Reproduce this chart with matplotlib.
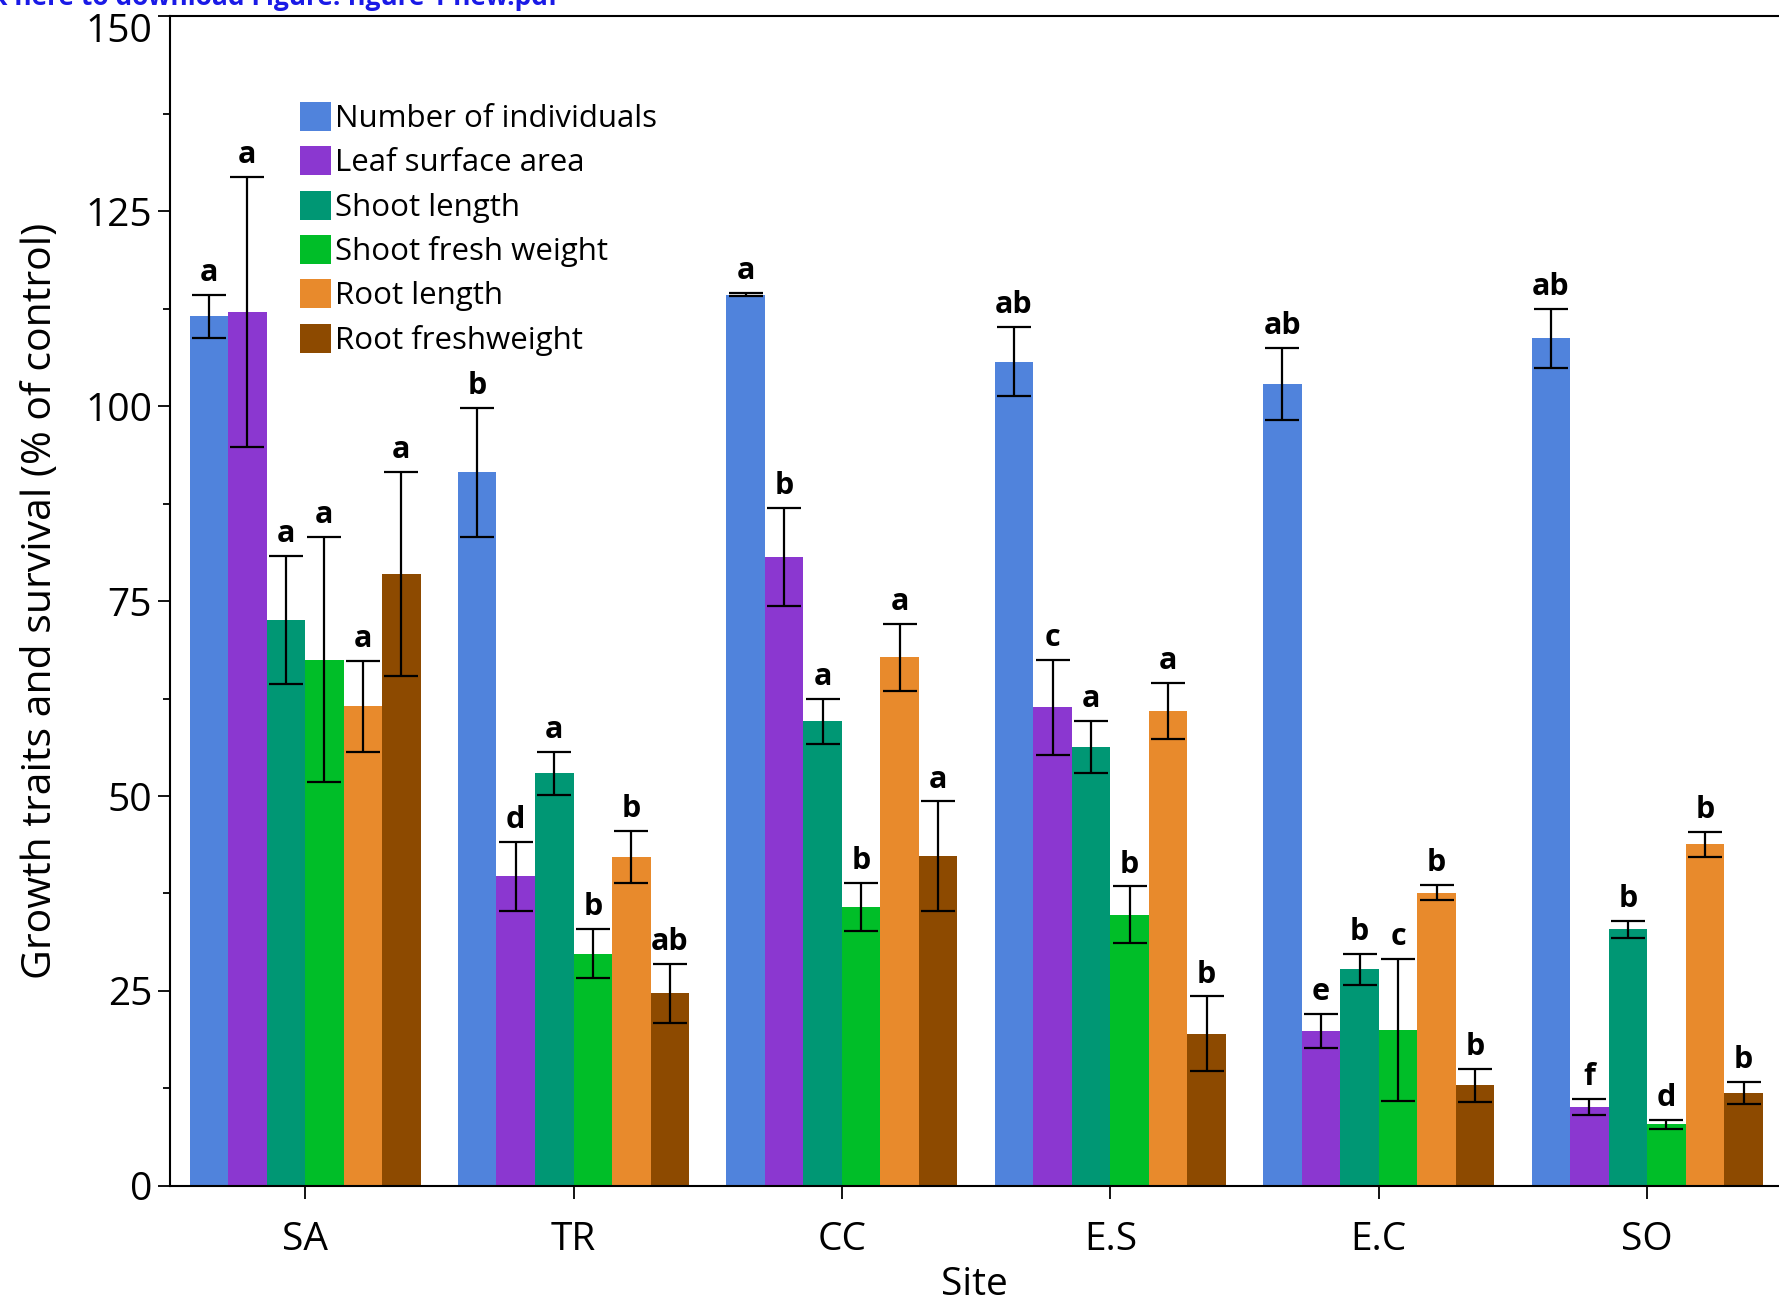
import numpy as np
import matplotlib
matplotlib.use("Agg")
import matplotlib.pyplot as plt
import matplotlib.transforms as mtransforms
from matplotlib.ticker import MultipleLocator

sites = ["SA", "TR", "CC", "E.S", "E.C", "SO"]
series = ["Number of individuals", "Leaf surface area", "Shoot length",
          "Shoot fresh weight", "Root length", "Root freshweight"]
colors = ["#5083DC", "#8B37D0", "#009774", "#00BE28", "#E88A2C", "#8D4A00"]

# values per series, one entry per site
number_ind = [111.5, 91.5, 114.3, 105.7, 102.8, 108.7]
leaf_area = [112.1, 39.7, 80.6, 61.4, 19.9, 10.1]
shoot_len = [72.6, 52.9, 59.6, 56.3, 27.8, 32.9]
shoot_fw = [67.5, 29.8, 35.8, 34.8, 20.0, 7.9]
root_len = [61.5, 42.2, 67.8, 60.9, 37.6, 43.8]
root_fw = [78.5, 24.7, 42.3, 19.5, 12.9, 11.9]

number_err = [2.8, 8.3, 0.15, 4.4, 4.6, 3.8]
leaf_err = [17.3, 4.4, 6.3, 6.1, 2.2, 1.05]
shoot_len_err = [8.2, 2.8, 2.9, 3.3, 2.0, 1.05]
shoot_fw_err = [15.7, 3.1, 3.1, 3.6, 9.1, 0.6]
root_len_err = [5.8, 3.3, 4.3, 3.6, 0.95, 1.6]
root_fw_err = [13.1, 3.8, 7.0, 4.8, 2.1, 1.4]

number_let = ["a", "b", "a", "ab", "ab", "ab"]
leaf_let = ["a", "d", "b", "c", "e", "f"]
shoot_len_let = ["a", "a", "a", "a", "b", "b"]
shoot_fw_let = ["a", "b", "b", "b", "c", "d"]
root_len_let = ["a", "b", "a", "a", "b", "b"]
root_fw_let = ["a", "ab", "a", "b", "b", "b"]

values = [number_ind, leaf_area, shoot_len, shoot_fw, root_len, root_fw]
errors = [number_err, leaf_err, shoot_len_err, shoot_fw_err, root_len_err, root_fw_err]
letters = [number_let, leaf_let, shoot_len_let, shoot_fw_let, root_len_let, root_fw_let]

fam = ["Open Sans", "DejaVu Sans"]

fig = plt.figure(figsize=(17.79, 13.06), dpi=100)
ax = fig.add_axes([0.0956, 0.0919, 1.0 - 0.0956, 0.9877 - 0.0919])

x = np.arange(len(sites))
w = 0.1435
for i in range(len(series)):
    pos = x + (i - 2.5) * w
    ax.bar(pos, values[i], width=w, color=colors[i], label=series[i], zorder=2)
    ax.errorbar(pos, values[i], yerr=errors[i], fmt="none", ecolor="black",
                elinewidth=1.6, capsize=12, capthick=1.6, zorder=3)
    for p, v, e, l in zip(pos, values[i], errors[i], letters[i]):
        ax.annotate(l, (p, v + e), xytext=(0, 10), textcoords="offset points",
                    ha="center", va="baseline", fontsize=22, fontweight="bold",
                    family=fam)

ax.set_xlim(-0.503, 5.491)
ax.set_ylim(0, 150)
ax.yaxis.set_major_locator(MultipleLocator(25))
ax.yaxis.set_minor_locator(MultipleLocator(12.5))
ax.set_xticks(x)
ax.set_xticklabels(sites, family=fam, fontsize=28)
ax.tick_params(axis="both", which="major", length=9, width=1.3, direction="out", pad=4)
ax.tick_params(axis="y", which="minor", length=5, width=1.3, direction="out")
ax.tick_params(axis="x", pad=16)
ax.spines["right"].set_visible(False)
for s in ["left", "top", "bottom"]:
    ax.spines[s].set_linewidth(1.5)

fig.canvas.draw()
for lab in ax.get_yticklabels():
    lab.set_family(fam)
    lab.set_fontsize(28)
    if lab.get_text() == "150":
        lab.set_transform(lab.get_transform() +
                          mtransforms.ScaledTranslation(0, -8 / 72, fig.dpi_scale_trans))

ax.set_xlabel("Site", fontsize=28, family=fam, labelpad=5)
ax.set_ylabel("Growth traits and survival (% of control)", fontsize=29.5,
              family=fam, labelpad=17)

ax.legend(loc="upper left", bbox_to_anchor=(0.071, 0.94), frameon=False,
          prop={"family": "Open Sans", "size": 22.5}, handlelength=1.0,
          handleheight=1.05, handletextpad=0.12, labelspacing=0.39, borderpad=0)

fig.text(-0.031, 0.9965, "Click here to download Figure: figure 1 new.pdf", color="#1A1AE6",
         fontsize=19, fontweight="bold", ha="left", va="baseline", family=fam)

fig.savefig("out.png", dpi=100)
